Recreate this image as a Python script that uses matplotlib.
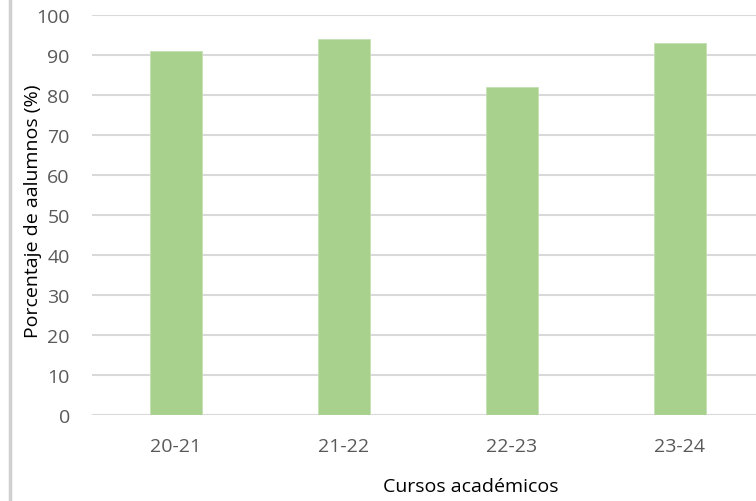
import matplotlib.pyplot as plt
from matplotlib.lines import Line2D

# datos
cursos = ['20-21', '21-22', '22-23', '23-24']
porcentajes = [91, 94, 82, 93]

plt.rcParams['font.family'] = ['Open Sans', 'DejaVu Sans']

W, H = 756, 502
fig = plt.figure(figsize=(W / 100, H / 100), dpi=100)
ax = fig.add_axes([92 / W, (H - 416) / H, 672 / W, 400 / H])

x = range(len(cursos))
ax.bar(x, porcentajes, width=0.31, color='#a9d18e', edgecolor='#c5e0b4', linewidth=0.6, zorder=3)

ax.set_xlim(-0.5, len(cursos) - 0.5)
ax.set_ylim(0, 100)
ax.set_yticks(range(0, 101, 10))
ax.set_xticks(list(x))
ax.set_xticklabels(cursos)
ax.grid(axis='y', color='#d9d9d9', linewidth=1.5, zorder=0)
for s in ax.spines.values():
    s.set_visible(False)
ax.tick_params(length=0, labelsize=14, colors='#595959')
ax.tick_params(axis='y', pad=16)
ax.tick_params(axis='x', pad=16)

fig.text(33 / W, 1 - 211 / H, 'Porcentaje de aalumnos (%)', rotation=90,
         ha='center', va='center', fontsize=14, color='black')
fig.text(471 / W, 1 - 487 / H, 'Cursos académicos', ha='center', va='center',
         fontsize=14, color='black')

# borde izquierdo
fig.add_artist(Line2D([10 / W, 10 / W], [0, 1], color='#d0d0d0', linewidth=2.5))

fig.savefig('out.png', dpi=100)
